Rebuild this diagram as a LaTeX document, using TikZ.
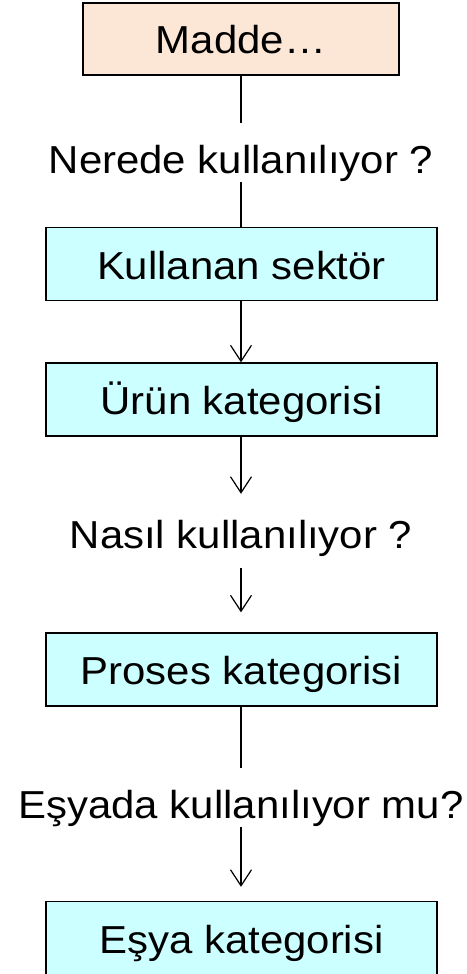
\documentclass[tikz,border=0pt]{standalone}
\usepackage{fontspec}
\setmainfont{Liberation Sans}[FakeStretch=1.075]
\usetikzlibrary{arrows.meta}
\definecolor{peach}{RGB}{252,230,214}
\definecolor{lcyan}{RGB}{204,255,255}
\begin{document}
\begin{tikzpicture}[x=1pt,y=-1pt,
  every node/.style={font=\fontsize{39}{45}\selectfont},
  box/.style={draw=black, line width=1.3pt, rectangle, inner sep=0pt,
    minimum width=391pt, minimum height=73pt, text height=30pt, text depth=0pt, fill=lcyan},
  question/.style={fill=white, inner xsep=2pt, inner ysep=9pt, text height=41pt, text depth=0pt},
  conn/.style={line width=1.2pt, draw=black},
  arr/.style={conn, -{Straight Barb[length=16pt,width=21pt,line width=1.2pt]}}
]
\useasboundingbox (0,0) rectangle (466,974);
% nodes
\node[box, fill=peach, minimum width=316pt, minimum height=72pt] (madde) at (241,39) {Madde…};
\node[box] (kullanan) at (241.5,264) {Kullanan sektör};
\node[box] (urun) at (241.5,399.5) {Ürün kategorisi};
\node[box] (proses) at (241.5,669.5) {Proses kategorisi};
\node[box] (esya) at (241.5,938) {Eşya kategorisi};
% connectors under the question labels
\draw[conn] (madde.south -| 241,0) -- (kullanan.north -| 241,0);
\draw[conn] (proses.south -| 241,0) -- (241,768);
% question labels
\node[question] (nerede) at (241,152.5) {Nerede kullanılıyor ?};
\node[question, inner ysep=20pt, text height=34pt] (nasil) at (241,531) {Nasıl kullanılıyor ?};
\node[question] (esyada) at (241,797.5) {Eşyada kullanılıyor mu?};
% arrows
\draw[arr] (kullanan.south -| 241,0) -- (urun.north -| 241,0);
\draw[arr] (urun.south -| 241,0) -- (nasil.north -| 241,0);
\draw[arr, shorten >=20pt] (nasil.south -| 241,0) -- (proses.north -| 241,0);
\draw[arr, shorten >=14pt] (esyada.south -| 241,0) -- (esya.north -| 241,0);
\end{tikzpicture}
\end{document}
